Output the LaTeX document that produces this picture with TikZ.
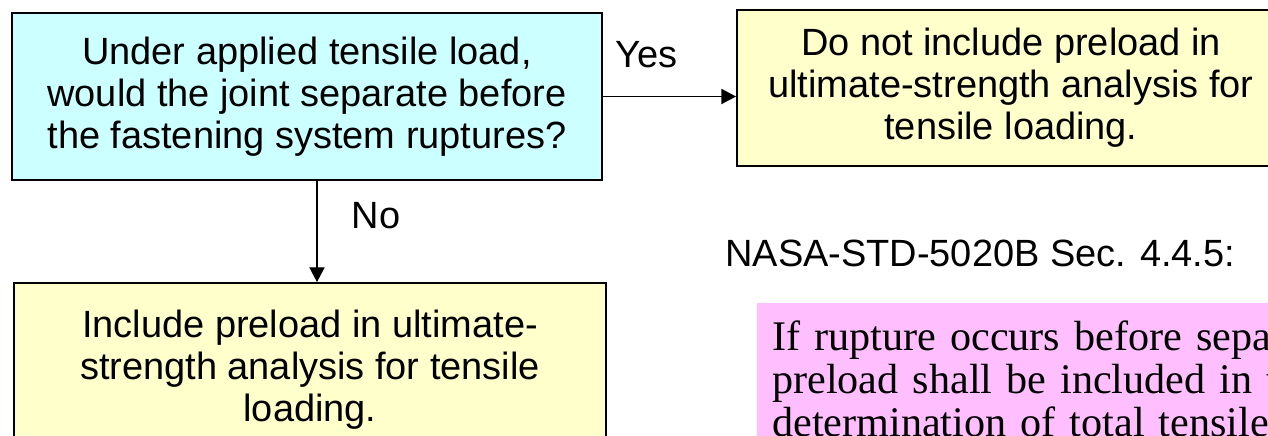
\documentclass[tikz,border=0pt]{standalone}
\usepackage{fontspec}
\setmainfont{Liberation Sans}
\newfontfamily\stdserif{Liberation Serif}
\usetikzlibrary{positioning,arrows.meta}
\definecolor{qcyan}{HTML}{CCFFFF}
\definecolor{ayellow}{HTML}{FFFFCC}
\definecolor{rpink}{HTML}{FFBFFF}
\newcommand{\boxsize}{\fontsize{27}{30}\selectfont}
\newcommand{\quotesize}{\stdserif\fontsize{30}{30.5}\selectfont}
\tikzset{
  flowarrow/.style={-{Triangle[length=0.37cm, width=0.38cm]}, line width=1pt},
  question/.style={draw, line width=1.3pt, fill=qcyan, minimum width=14.75cm, minimum height=4.175cm, align=center, font=\boxsize},
  answer/.style={draw, line width=1.3pt, fill=ayellow, align=center, font=\boxsize},
  relabel/.style={font=\boxsize, inner sep=0pt},
  quotebox/.style={fill=rpink, anchor=north west, align=left, text width=14cm, inner xsep=0.375cm, inner ysep=0.45cm, font=\quotesize}
}

\begin{document}
\begin{tikzpicture}
      \clip (0,0) rectangle (31.7,10.875);
      \node[question] (sep) at (7.675,8.4625) {Under applied tensile load,\\would the joint separate before\\the fastening system ruptures?};
      \node[answer, minimum width=13.7cm, minimum height=3.9cm] (nopre) at (25.275,8.675) {Do not include preload in\\ultimate-strength analysis for\\tensile loading.};
      \node[answer, minimum width=14.8cm, minimum height=4.35cm] (pre) at (7.75,1.625) {Include preload in ultimate-\\strength analysis for tensile\\loading.};
      \node[relabel, anchor=west] (std) at (18.125,4.55) {NASA-STD-5020B Sec. 4.4.5:};
      \node[quotebox] (quote) at (18.925,3.3) {If rupture occurs before sepa\\preload shall be included in t\\determination of total tensile};
      \draw[flowarrow] (sep.east) -- node[relabel, pos=0, anchor=west, xshift=0.3cm, yshift=1.05cm]{Yes} (sep.east -| nopre.west);
      \draw[flowarrow] ([xshift=0.25cm]sep.south) -- node[relabel, pos=0.34, anchor=west, xshift=0.85cm]{No} ([xshift=0.25cm]sep.south |- pre.north);
    \end{tikzpicture}
\end{document}
